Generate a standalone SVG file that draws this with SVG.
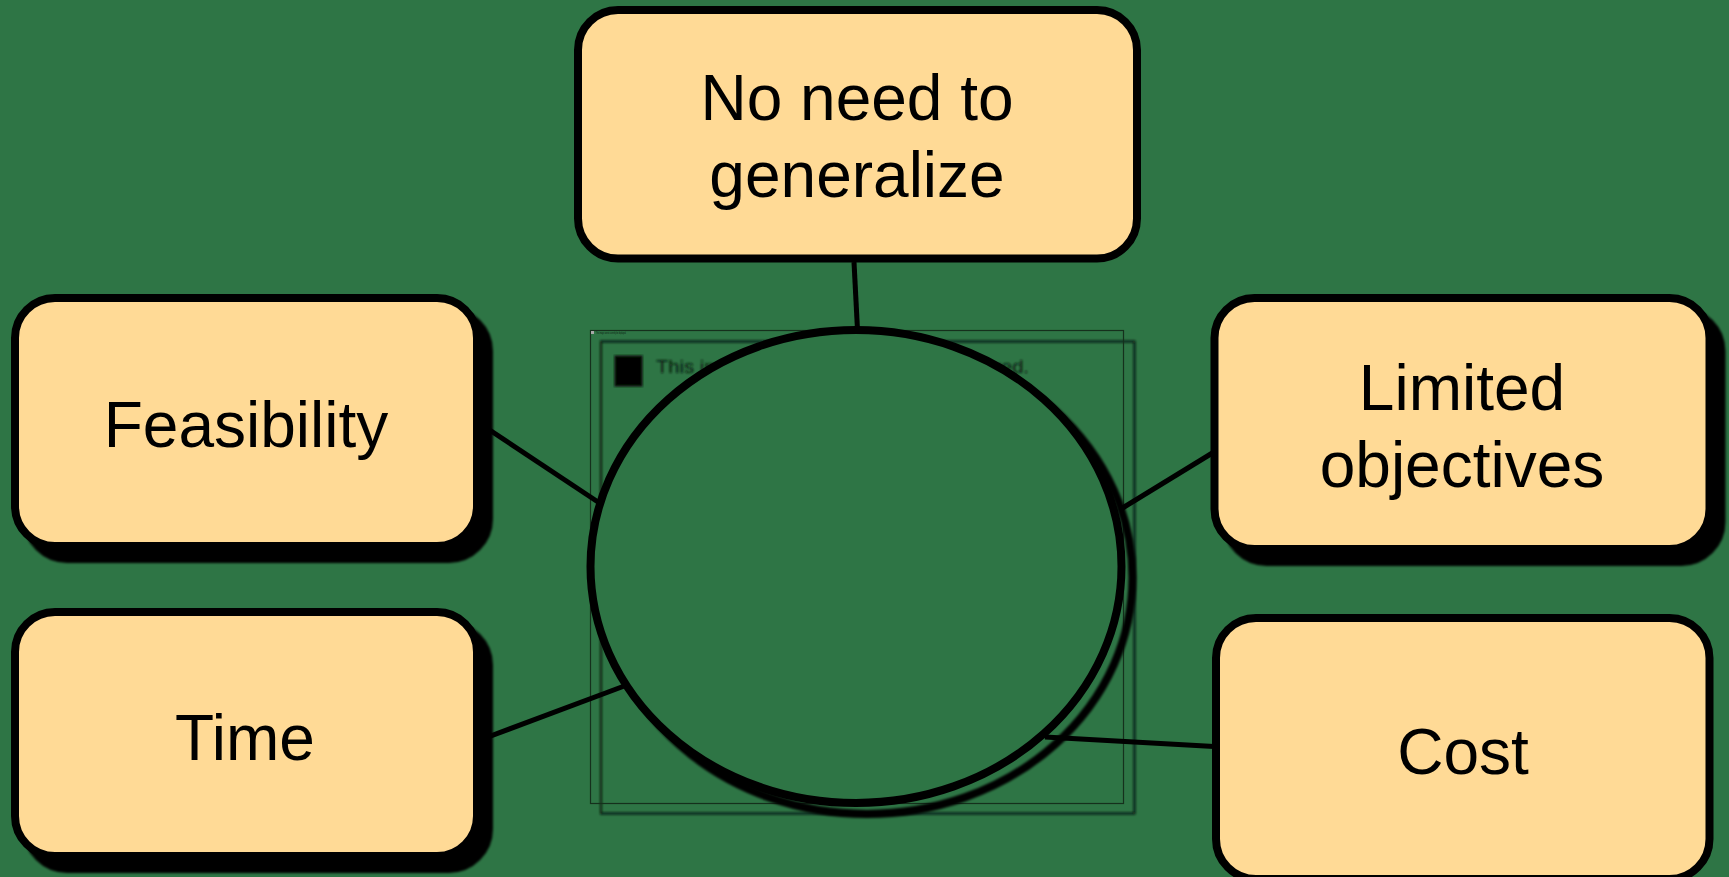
<svg xmlns="http://www.w3.org/2000/svg" width="1729" height="877" viewBox="0 0 1729 877">
  <defs>
    <filter id="soft" x="-5%" y="-5%" width="110%" height="110%">
      <feGaussianBlur stdDeviation="1.2"/>
    </filter>
    <style>
      .bg { fill: #2E7545; }
      .box { fill: #FFDA96; stroke: #000; stroke-width: 8; }
      .shadow { fill: #000; stroke: #000; stroke-width: 8; filter: url(#soft); }
      .label { font-family: "Liberation Sans", Arial, sans-serif; font-size: 64px; fill: #000; text-anchor: middle; }
      .link { stroke: #000; stroke-width: 5; fill: none; }
      .hub { fill: #2E7545; stroke: #000; stroke-width: 8; }
      .hub-shadow { fill: none; stroke: #000; stroke-width: 8; filter: url(#soft); }
      .ph-frame { fill: none; stroke: #15301c; stroke-width: 1.2; }
      .ph-shadow { fill: none; stroke: #0a1a0e; stroke-width: 2; filter: url(#soft); }
      .ph-text { font-family: "Liberation Sans", Arial, sans-serif; fill: #0b1a10; }
    </style>
  </defs>

  <rect class="bg" x="0" y="0" width="1729" height="877"/>

  <!-- broken picture placeholder behind the hub -->
  <g id="placeholder">
    <rect class="ph-shadow" x="601" y="341.5" width="533.5" height="472"/>
    <rect class="ph-frame" x="590.5" y="330.5" width="533" height="473"/>
    <rect x="591" y="331" width="3" height="3" fill="#a9a9a9"/>
    <text class="ph-text" x="596" y="334" font-size="3" textLength="30" lengthAdjust="spacingAndGlyphs">This image cannot currently be displayed.</text>
    <rect x="615" y="356" width="27" height="30" fill="#000" stroke="#0b1a10" stroke-width="1.5" filter="url(#soft)"/>
    <text class="ph-text" x="656" y="373" font-size="19" textLength="373" lengthAdjust="spacingAndGlyphs" filter="url(#soft)">This image cannot currently be displayed.</text>
  </g>

  <!-- central hub -->
  <g id="hub">
    <ellipse class="hub-shadow" cx="867" cy="577.5" rx="265.5" ry="236.5"/>
    <ellipse class="hub" cx="856" cy="566.5" rx="265.5" ry="236.5"/>
  </g>

  <!-- spokes from the hub to each factor -->
  <g id="connectors">
    <line class="link" x1="854" y1="262" x2="857.5" y2="330"/>
    <line class="link" x1="476" y1="421" x2="601" y2="504"/>
    <line class="link" x1="476" y1="741.5" x2="627" y2="685"/>
    <line class="link" x1="1214" y1="452" x2="1121" y2="509"/>
    <line class="link" x1="1045" y1="737" x2="1214" y2="746.5"/>
  </g>

  <g id="node-generalize">
    <rect class="box" x="578" y="10" width="559" height="248.5" rx="40"/>
    <text class="label" x="857" y="120">No need to</text>
    <text class="label" x="857" y="196.5">generalize</text>
  </g>

  <g id="node-feasibility">
    <rect class="shadow" x="27" y="311" width="462" height="248" rx="40"/>
    <rect class="box" x="15" y="298" width="462" height="248" rx="40"/>
    <text class="label" x="246" y="446.5">Feasibility</text>
  </g>

  <g id="node-time">
    <rect class="shadow" x="27" y="625" width="462" height="244" rx="40"/>
    <rect class="box" x="15" y="612" width="462" height="244" rx="40"/>
    <text class="label" x="245" y="760">Time</text>
  </g>

  <g id="node-objectives">
    <rect class="shadow" x="1226.5" y="311" width="495" height="251" rx="40"/>
    <rect class="box" x="1214.5" y="298" width="495" height="251" rx="40"/>
    <text class="label" x="1462" y="410">Limited</text>
    <text class="label" x="1462" y="486.5">objectives</text>
  </g>

  <g id="node-cost">
    <rect class="box" x="1216" y="618" width="493.5" height="261" rx="40"/>
    <text class="label" x="1463" y="773.5">Cost</text>
  </g>
</svg>
